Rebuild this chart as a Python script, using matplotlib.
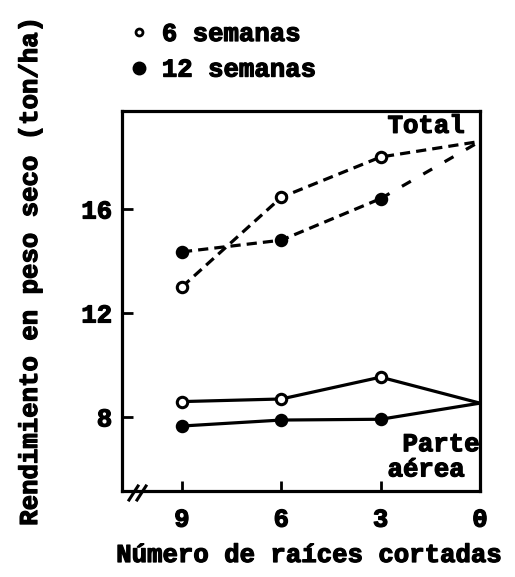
import matplotlib
matplotlib.use("Agg")
import matplotlib.pyplot as plt
from matplotlib.lines import Line2D
import matplotlib.patheffects as pe

# ---- data ----
roots_cut = [9, 6, 3, 0]
total_6sem = [13.0, 16.45, 18.0, 18.6]
total_12sem_x = [9, 6, 3, 0]
total_12sem = [14.35, 14.8, 16.4, 18.6]
aerea_6sem = [8.59, 8.69, 9.53, 8.53]
aerea_12sem = [7.65, 7.88, 7.91, 8.53]
yticks = [8, 12, 16]
xticks = [9, 6, 3, 0]
legend_labels = ["6 semanas", "12 semanas"]

FONT = "Liberation Mono"
FS = 18.5
plt.rcParams['font.family'] = [FONT, 'DejaVu Sans']
plt.rcParams['font.weight'] = 'bold'
thick = [pe.withStroke(linewidth=0.9, foreground='black')]

W, H = 515, 577
fig = plt.figure(figsize=(W / 100, H / 100), dpi=100)
L, R, T, B = 122, 480, 111, 491
ax = fig.add_axes([L / W, (H - B) / H, (R - L) / W, (B - T) / H])

lw = 2.3
dash = (3.2, 1.9)
ms = 7.5
# Total (dashed)
ax.plot(roots_cut, total_6sem, color='black', lw=lw, dashes=dash, markevery=[0, 1, 2],
        marker='o', ms=ms, mfc='white', mec='black', mew=2.2, clip_on=False, zorder=3)
ax.plot(total_12sem_x[:3], total_12sem[:3], color='black', lw=lw, dashes=dash,
        marker='o', ms=ms, mfc='black', mec='black', mew=2.2, clip_on=False, zorder=3)
ax.plot(total_12sem_x[2:], total_12sem[2:], color='black', lw=lw, dashes=(3.2, 4.5),
        clip_on=False, zorder=2)
# Parte aerea (solid)
ax.plot(roots_cut, aerea_6sem, color='black', lw=lw, markevery=[0, 1, 2],
        marker='o', ms=ms, mfc='white', mec='black', mew=2.2, clip_on=False, zorder=3)
ax.plot(roots_cut, aerea_12sem, color='black', lw=lw, markevery=[0, 1, 2],
        marker='o', ms=ms, mfc='black', mec='black', mew=2.2, clip_on=False, zorder=3)

ax.set_xlim(10.81, 0)
ax.set_ylim(5.15, 19.77)
ax.set_xticks(xticks)
ax.set_xticklabels([str(v) for v in xticks])
ax.set_yticks(yticks)
ax.set_yticklabels([str(v) for v in yticks])
for s in ax.spines.values():
    s.set_linewidth(2.3)
ax.tick_params(axis='y', direction='in', length=8, width=2, pad=7, labelsize=FS)
ax.tick_params(axis='x', direction='in', length=7, width=2, pad=12, labelsize=FS)
for lab in ax.get_xticklabels() + ax.get_yticklabels():
    lab.set_fontweight('bold')
    lab.set_path_effects(thick)

# axis break marks
bw, bh = R - L, B - T
for x0 in (129, 137):
    ax.plot([(x0 - L) / bw, (x0 + 9 - L) / bw], [(B - 500) / bh, (B - 486) / bh],
            transform=ax.transAxes, color='black', lw=2.2, clip_on=False, zorder=4)

# annotations
ax.text(0.45, 19.2, "Total", ha='right', va='center', fontsize=FS, fontweight='bold',
        path_effects=thick)
ax.text(0.0, 6.95, "Parte", ha='right', va='center', fontsize=FS, fontweight='bold',
        path_effects=thick)
ax.text(0.45, 5.98, "aérea", ha='right', va='center', fontsize=FS, fontweight='bold',
        path_effects=thick, bbox=dict(facecolor='white', edgecolor='none', pad=0.5))

fig.text(30 / W, 1 - 270 / H, "Rendimiento en peso seco (ton/ha)", rotation=90,
         ha='center', va='center', fontsize=FS, fontweight='bold', path_effects=thick)
fig.text(310 / W, 1 - 555 / H, "Número de raíces cortadas", ha='center', va='center',
         fontsize=FS, fontweight='bold', path_effects=thick)

handles = [Line2D([], [], ls='none', marker='o', ms=5, mfc='white', mec='black', mew=2),
           Line2D([], [], ls='none', marker='o', ms=9, mfc='black', mec='black')]
leg = fig.legend(handles, legend_labels, loc='upper left',
                 bbox_to_anchor=(131 / W, 1 - 22 / H), frameon=False,
                 prop=dict(family=FONT, weight='bold', size=FS),
                 handlelength=0.6, handletextpad=0.6, labelspacing=0.45,
                 borderpad=0, borderaxespad=0)
for t in leg.get_texts():
    t.set_path_effects(thick)

fig.savefig("out.png", dpi=100)
